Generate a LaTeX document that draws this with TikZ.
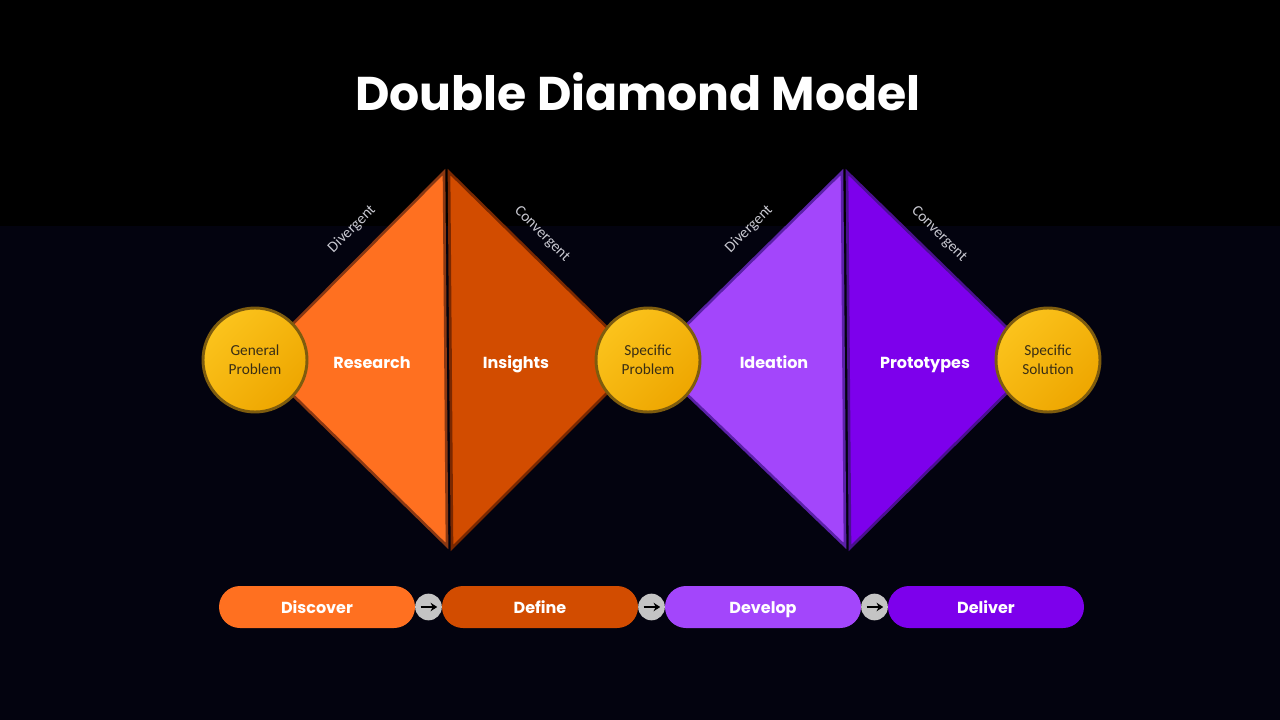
\documentclass[tikz,border=0pt]{standalone}
\usepackage{fontspec}
\setmainfont{Carlito}
\newfontfamily\pop{Poppins}
\usetikzlibrary{arrows.meta}
\definecolor{bgtop}{HTML}{000000}
\definecolor{bgbot}{HTML}{03030F}
\definecolor{orA}{HTML}{FF7020}
\definecolor{orAe}{HTML}{8A3812}
\definecolor{orB}{HTML}{D24C00}
\definecolor{orBe}{HTML}{7A2800}
\definecolor{puA}{HTML}{A346FB}
\definecolor{puAe}{HTML}{5B21A8}
\definecolor{puB}{HTML}{7D00EC}
\definecolor{puBe}{HTML}{4A1090}
\definecolor{goldA}{HTML}{FBC31C}
\definecolor{goldB}{HTML}{EEA600}
\definecolor{goldE}{HTML}{7E5C0E}
\definecolor{circtxt}{HTML}{3A2E14}
\definecolor{sidetxt}{HTML}{C8C8D0}
\definecolor{arrbg}{HTML}{C4C4C4}
\tikzset{
  tri/.style={line width=2pt, line join=miter},
  goal/.style={circle, minimum size=78pt, inner sep=0pt, draw=goldE, line width=2.2pt,
    top color=goldA, bottom color=goldB, shading angle=45, text=circtxt,
    font=\fontsize{11.5pt}{14pt}\selectfont, align=center},
  phase/.style={text=white, font=\pop\bfseries\fontsize{12pt}{14pt}\selectfont,
    text height=11.6pt, text depth=2.4pt, inner sep=0pt},
  side/.style={text=sidetxt, font=\fontsize{11.5pt}{13pt}\selectfont},
  pill/.style={rounded corners=15.75pt, minimum width=147pt, minimum height=31.5pt,
    inner sep=0pt, text=white, font=\pop\bfseries\fontsize{12pt}{14pt}\selectfont,
    text height=11.6pt, text depth=2.4pt},
  arrcirc/.style={circle, fill=arrbg, minimum size=20pt, inner sep=0pt},
  arr/.style={-{Stealth[length=5pt,width=6.5pt]}, line width=1.8pt, black}
}
\begin{document}
\begin{tikzpicture}[x=0.75pt, y=-0.75pt]
\useasboundingbox (0,0) rectangle (1280,720);
\fill[bgtop] (0,0) rectangle (1280,227);
\fill[bgbot] (0,226) rectangle (1280,720);
% title
\node[text=white, font=\pop\bfseries\fontsize{35.5pt}{40pt}\selectfont] (title) at (638,92) {Double Diamond Model};
% diamonds
\coordinate (d1t) at (444,172); \coordinate (d1l) at (257,360); \coordinate (d1b) at (447,546);
\coordinate (d2t) at (449,172); \coordinate (d2b) at (452,548); \coordinate (d2r) at (640,360);
\coordinate (d3t) at (842,172); \coordinate (d3l) at (651,360); \coordinate (d3b) at (845,546);
\coordinate (d4t) at (847,172); \coordinate (d4b) at (850,548); \coordinate (d4r) at (1040,360);
\draw[tri, fill=orA, draw=orAe] (d1t) -- (d1l) -- (d1b) -- cycle;
\draw[tri, fill=orB, draw=orBe] (d2t) -- (d2b) -- (d2r) -- cycle;
\draw[tri, fill=puA, draw=puAe] (d3t) -- (d3l) -- (d3b) -- cycle;
\draw[tri, fill=puB, draw=puBe] (d4t) -- (d4b) -- (d4r) -- cycle;
% phase labels
\node[phase] (research) at (372,362) {Research};
\node[phase] (insights) at (516,362) {Insights};
\node[phase] (ideation) at (774,362) {Ideation};
\node[phase] (protos) at (925,362) {Prototypes};
% side labels
\node[side, rotate=45] (div1) at (352,229) {Divergent};
\node[side, rotate=-45] (con1) at (542,234) {Convergent};
\node[side, rotate=45] (div2) at (749,229) {Divergent};
\node[side, rotate=-45] (con2) at (939,234) {Convergent};
% circles
\node[goal] (gp) at (255,360) {General\\Problem};
\node[goal] (sp) at (648,360) {Specific\\Problem};
\node[goal] (ss) at (1048,360) {Specific\\Solution};
% pills
\node[pill, fill=orA] (discover) at (317,607) {Discover};
\node[pill, fill=orB] (define) at (540,607) {Define};
\node[pill, fill=puA] (develop) at (763,607) {Develop};
\node[pill, fill=puB] (deliver) at (986,607) {Deliver};
% arrow circles
\node[arrcirc] (a1) at (428.5,607) {};
\node[arrcirc] (a2) at (651.5,607) {};
\node[arrcirc] (a3) at (874.5,607) {};
\foreach \a in {a1,a2,a3}{
  \coordinate (\a s) at ([xshift=-6pt]\a.center);
  \coordinate (\a e) at ([xshift=6.5pt]\a.center);
  \draw[arr] (\a s) -- (\a e);
}
\end{tikzpicture}
\end{document}
